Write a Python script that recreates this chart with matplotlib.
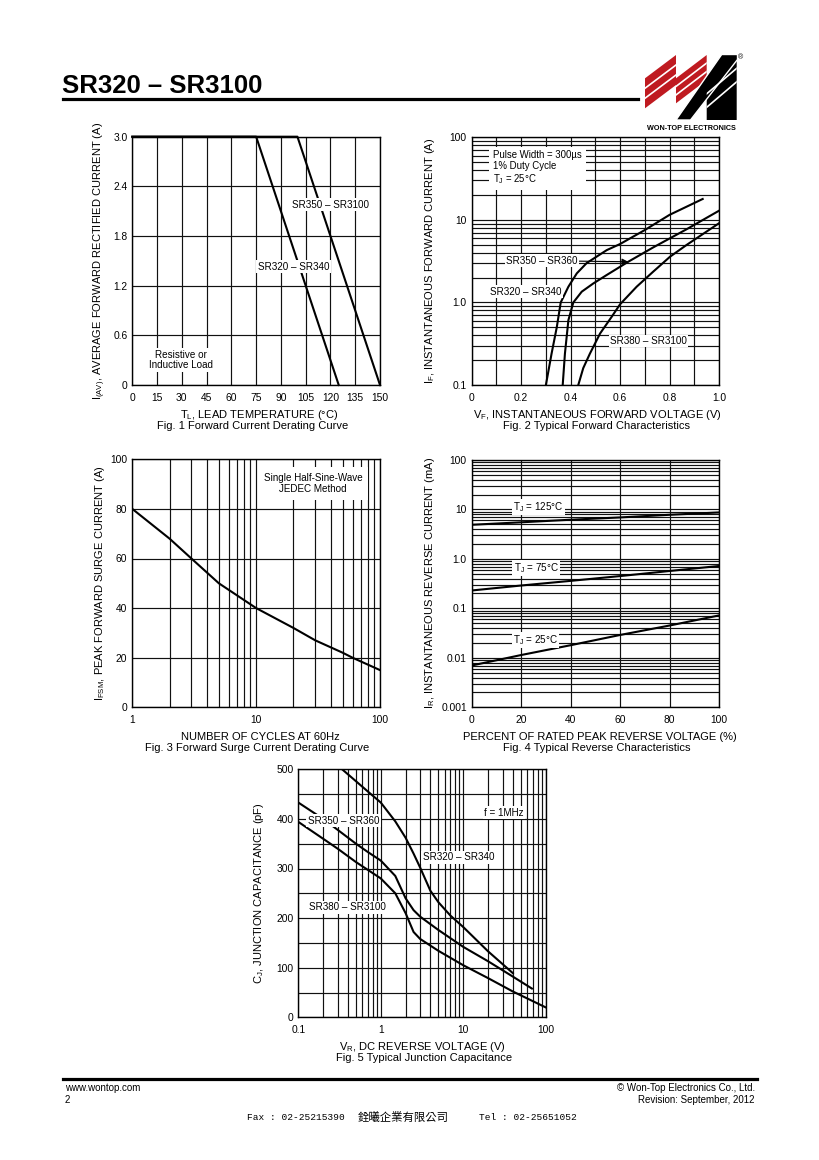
import matplotlib
matplotlib.use("Agg")
import matplotlib.pyplot as plt
from matplotlib.lines import Line2D
from matplotlib.patches import Polygon
from matplotlib.ticker import (FixedFormatter, FixedLocator, LogLocator,
                               MultipleLocator, NullFormatter)

W, H = 820, 1160

# ---- data ----
# Fig. 1 forward current derating
fig1_temp_lo = [0, 75, 125]
fig1_amp_lo = [3.0, 3.0, 0.0]
fig1_temp_hi = [0, 100, 150]
fig1_amp_hi = [3.0, 3.0, 0.0]
fig1_xticks = [0, 15, 30, 45, 60, 75, 90, 105, 120, 135, 150]
fig1_yticks = [0, 0.6, 1.2, 1.8, 2.4, 3.0]
fig1_ylabels = ["0", "0.6", "1.2", "1.8", "2.4", "3.0"]

# Fig. 2 forward characteristics
fig2_v_320 = [0.300, 0.323, 0.344, 0.360, 0.391, 0.425, 0.465, 0.546,
              0.600, 0.699, 0.800, 0.934]
fig2_i_320 = [0.1, 0.24, 0.5, 1.0, 1.55, 2.25, 3.0, 4.3, 5.1, 7.5, 11.5, 17.9]
fig2_v_350 = [0.368, 0.377, 0.391, 0.411, 0.445, 0.492, 0.546, 0.633,
              0.734, 0.869, 1.0]
fig2_i_350 = [0.1, 0.24, 0.61, 1.0, 1.35, 1.70, 2.15, 3.11, 4.64, 7.7, 12.9]
fig2_v_380 = [0.431, 0.451, 0.478, 0.519, 0.566, 0.600, 0.667, 0.734,
              0.802, 0.869, 1.0]
fig2_i_380 = [0.1, 0.16, 0.24, 0.42, 0.67, 0.95, 1.55, 2.36, 3.58, 4.97, 9.1]
fig2_xticks = [0, 0.2, 0.4, 0.6, 0.8, 1.0]
fig2_xlabels = ["0", "0.2", "0.4", "0.6", "0.8", "1.0"]
fig2_yticks = [0.1, 1, 10, 100]
fig2_ylabels = ["0.1", "1.0", "10", "100"]

# Fig. 3 surge current
fig3_cycles = [1, 2, 3, 5, 10, 20, 30, 50, 60, 100]
fig3_amp = [80, 68, 60, 50, 40, 32, 27, 22, 20, 15]
fig3_xticks = [1, 10, 100]
fig3_xlabels = ["1", "10", "100"]
fig3_yticks = [0, 20, 40, 60, 80, 100]

# Fig. 4 reverse characteristics
fig4_pct = [0, 20, 40, 60, 80, 100]
fig4_ir_125 = [4.9, 5.5, 6.2, 6.9, 7.8, 8.7]
fig4_ir_75 = [0.23, 0.29, 0.36, 0.45, 0.57, 0.72]
fig4_ir_25 = [0.007, 0.0114, 0.018, 0.029, 0.045, 0.072]
fig4_yticks = [0.001, 0.01, 0.1, 1, 10, 100]
fig4_ylabels = ["0.001", "0.01", "0.1", "1.0", "10", "100"]

# Fig. 5 junction capacitance
fig5_v_320 = [0.34, 0.5, 0.7, 1.0, 1.5, 2.0, 2.5, 3.0, 4.0, 5.0, 7.0, 10,
              20, 40]
fig5_c_320 = [500, 476, 455, 433, 395, 362, 330, 302, 255, 232, 205, 182,
              133, 89]
fig5_v_350 = [0.1, 0.2, 0.3, 0.5, 0.7, 1.0, 1.5, 2.0, 2.5, 3.0, 5.0, 10,
              20, 40, 68]
fig5_c_350 = [433, 400, 378, 350, 333, 316, 285, 240, 216, 203, 176, 142,
              113, 82, 58]
fig5_v_380 = [0.1, 0.2, 0.3, 0.5, 0.7, 1.0, 1.5, 2.0, 2.5, 3.0, 5.0, 10,
              20, 40, 100]
fig5_c_380 = [394, 360, 340, 313, 297, 280, 250, 210, 172, 158, 134, 105,
              79, 52, 20]
fig5_xticks = [0.1, 1, 10, 100]
fig5_xlabels = ["0.1", "1", "10", "100"]
fig5_yticks = [0, 100, 200, 300, 400, 500]

plt.rcParams['font.family'] = ['Liberation Sans', 'DejaVu Sans']
plt.rcParams['mathtext.default'] = 'regular'
FS = 7.4      # tick labels
FS_IN = 7.1   # labels inside the plots
FS_AX = 8.0   # axis titles and captions
LW = 1.5


def box(left, top, right, bottom):
    """Axes rectangle from page pixel coordinates."""
    return [left / W, 1 - bottom / H, (right - left) / W, (bottom - top) / H]


def ftext(fig, x, y, s, **kw):
    """Text placed in page pixel coordinates."""
    kw.setdefault('fontsize', FS_AX)
    return fig.text(x / W, 1 - y / H, s, **kw)


def style_axes(ax):
    ax.tick_params(which='both', length=0, labelsize=FS)
    ax.tick_params(axis='x', pad=5.5)
    ax.tick_params(axis='y', pad=3.5)
    ax.grid(which='both', color='#111111', lw=0.85)
    ax.set_axisbelow(True)
    for sp in ax.spines.values():
        sp.set_linewidth(1.0)


def log_minor(axis):
    axis.set_minor_locator(LogLocator(base=10, subs=range(2, 10)))
    axis.set_minor_formatter(NullFormatter())


def striped(ax, pts, color, cuts):
    """Filled logo shape with white cut lines clipped to it."""
    patch = Polygon(pts, closed=True, fc=color, ec='none')
    ax.add_patch(patch)
    for (x0, y0), (x1, y1) in cuts:
        ln, = ax.plot([x0, x1], [y0, y1], color='white', lw=1.2)
        ln.set_clip_path(patch)
    return patch


WHITE = dict(boxstyle='square,pad=0.15', fc='white', ec='none')

fig = plt.figure(figsize=(W / 100, H / 100), dpi=100)

# ---- header ----
ftext(fig, 62, 86, "SR320 – SR3100", fontsize=18.5, fontweight='bold',
      va='center', ha='left')
fig.add_artist(Line2D([63 / W, 638 / W], [1 - 99 / H, 1 - 99 / H],
                      color='black', lw=2.3, transform=fig.transFigure))

logo = fig.add_axes(box(630, 40, 750, 135))
logo.set_xlim(630, 750)
logo.set_ylim(135, 40)
logo.axis('off')
red = '#bf1a20'
striped(logo, [(645, 78.3), (676, 55), (676, 85), (645, 108.3)], red,
        [((640, 92.0), (680, 62.0)), ((640, 102.0), (680, 72.0))])
striped(logo, [(676, 78.3), (706.7, 55), (706.7, 80), (676, 103.3)], red,
        [((670, 91.0), (712, 59.0)), ((670, 99.5), (712, 67.5))])
striped(logo, [(706.7, 120), (736.7, 120), (736.7, 58), (706.7, 92)],
        'black',
        [((700, 99.5), (740, 65.5)), ((700, 113.0), (740, 79.0))])
logo.add_patch(Polygon([(676, 120), (690.5, 120), (737.5, 59.5),
                        (737.5, 54.5), (721.7, 54.5)],
                       closed=True, fc='black', ec='white', lw=1.0))
logo.text(691, 128, "WON-TOP ELECTRONICS", fontsize=5.2, fontweight='bold',
          ha='center', va='center')
logo.text(741, 58, "®", fontsize=5, ha='center', va='center')

# ---- Fig. 1 ----
ax1 = fig.add_axes(box(132.3, 136.7, 380, 385))
ax1.plot(fig1_temp_lo, fig1_amp_lo, color='black', lw=LW, clip_on=False)
ax1.plot(fig1_temp_hi, fig1_amp_hi, color='black', lw=LW, clip_on=False)
ax1.set_xlim(0, 150)
ax1.set_ylim(0, 3.0)
ax1.xaxis.set_major_locator(FixedLocator(fig1_xticks))
ax1.yaxis.set_major_locator(FixedLocator(fig1_yticks))
ax1.yaxis.set_major_formatter(FixedFormatter(fig1_ylabels))
style_axes(ax1)
ax1.text(120.3, 2.18, "SR350 – SR3100", fontsize=FS_IN, ha='center',
         va='center', zorder=5, bbox=WHITE)
ax1.text(97.6, 1.43, "SR320 – SR340", fontsize=FS_IN, ha='center',
         va='center', zorder=5, bbox=WHITE)
ax1.text(29.5, 0.30, "Resistive or\nInductive Load", fontsize=FS_IN,
         ha='center', va='center', linespacing=1.05, zorder=5, bbox=WHITE)
ftext(fig, 100, 261, r"I$_{(AV)}$, AVERAGE FORWARD RECTIFIED CURRENT (A)",
      rotation=90, ha='center', va='center')
ftext(fig, 259, 415, r"T$_{L}$, LEAD TEMPERATURE (°C)", ha='center',
      va='center')
ftext(fig, 253, 426, "Fig. 1 Forward Current Derating Curve", ha='center',
      va='center')

# ---- Fig. 2 ----
ax2 = fig.add_axes(box(471.7, 137.3, 719, 385))
ax2.set_yscale('log')
ax2.plot(fig2_v_320, fig2_i_320, color='black', lw=LW)
ax2.plot(fig2_v_350, fig2_i_350, color='black', lw=LW)
ax2.plot(fig2_v_380, fig2_i_380, color='black', lw=LW)
ax2.set_xlim(0, 1.0)
ax2.set_ylim(0.1, 100)
ax2.xaxis.set_major_locator(FixedLocator(fig2_xticks))
ax2.xaxis.set_major_formatter(FixedFormatter(fig2_xlabels))
ax2.xaxis.set_minor_locator(MultipleLocator(0.1))
ax2.yaxis.set_major_locator(FixedLocator(fig2_yticks))
ax2.yaxis.set_major_formatter(FixedFormatter(fig2_ylabels))
log_minor(ax2.yaxis)
style_axes(ax2)
ax2.text(0.086, 0.95, "Pulse Width = 300µs\n1% Duty Cycle\nT$_{J}$ = 25°C",
         transform=ax2.transAxes, fontsize=6.9, ha='left', va='top',
         linespacing=1.15, zorder=5,
         bbox=dict(boxstyle='square,pad=0.45', fc='white', ec='none'))
ax2.annotate("SR350 – SR360", xy=(0.633, 3.11), xytext=(0.284, 3.2),
             fontsize=FS_IN, ha='center', va='center', zorder=5, bbox=WHITE,
             arrowprops=dict(arrowstyle='-|>', color='black', lw=0.8,
                             mutation_scale=9, shrinkA=0, shrinkB=0))
ax2.text(0.218, 1.34, "SR320 – SR340", fontsize=FS_IN, ha='center',
         va='center', zorder=5, bbox=WHITE)
ax2.text(0.715, 0.341, "SR380 – SR3100", fontsize=FS_IN, ha='center',
         va='center', zorder=5, bbox=WHITE)
ftext(fig, 430, 261, r"I$_{F}$, INSTANTANEOUS FORWARD CURRENT (A)",
      rotation=90, ha='center', va='center')
ftext(fig, 597, 415, r"V$_{F}$, INSTANTANEOUS FORWARD VOLTAGE (V)",
      ha='center', va='center')
ftext(fig, 597, 426, "Fig. 2 Typical Forward Characteristics", ha='center',
      va='center')

# ---- Fig. 3 ----
ax3 = fig.add_axes(box(132.3, 459.3, 380, 707.3))
ax3.set_xscale('log')
ax3.plot(fig3_cycles, fig3_amp, color='black', lw=LW)
ax3.set_xlim(1, 100)
ax3.set_ylim(0, 100)
ax3.xaxis.set_major_locator(FixedLocator(fig3_xticks))
ax3.xaxis.set_major_formatter(FixedFormatter(fig3_xlabels))
log_minor(ax3.xaxis)
ax3.yaxis.set_major_locator(FixedLocator(fig3_yticks))
style_axes(ax3)
ax3.grid(which='minor', axis='y', visible=False)
ax3.text(0.73, 0.902, "Single Half-Sine-Wave\nJEDEC Method",
         transform=ax3.transAxes, fontsize=FS_IN, ha='center', va='center',
         multialignment='center', linespacing=1.1, zorder=5,
         bbox=dict(boxstyle='square,pad=0.6', fc='white', ec='none'))
ftext(fig, 100, 583, r"I$_{FSM}$, PEAK FORWARD SURGE CURRENT (A)",
      rotation=90, ha='center', va='center')
ftext(fig, 260, 737, "NUMBER OF CYCLES AT 60Hz", ha='center', va='center')
ftext(fig, 257, 748, "Fig. 3 Forward Surge Current Derating Curve",
      ha='center', va='center')

# ---- Fig. 4 ----
ax4 = fig.add_axes(box(471.7, 460, 719, 707.3))
ax4.set_yscale('log')
ax4.plot(fig4_pct, fig4_ir_125, color='black', lw=LW)
ax4.plot(fig4_pct, fig4_ir_75, color='black', lw=LW)
ax4.plot(fig4_pct, fig4_ir_25, color='black', lw=LW)
ax4.set_xlim(0, 100)
ax4.set_ylim(0.001, 100)
ax4.xaxis.set_major_locator(MultipleLocator(20))
ax4.yaxis.set_major_locator(FixedLocator(fig4_yticks))
ax4.yaxis.set_major_formatter(FixedFormatter(fig4_ylabels))
log_minor(ax4.yaxis)
style_axes(ax4)
ax4.text(27, 11.2, "T$_{J}$ = 125°C", fontsize=FS_IN, ha='center',
         va='center', zorder=5, bbox=WHITE)
ax4.text(26, 0.655, "T$_{J}$ = 75°C", fontsize=FS_IN, ha='center',
         va='center', zorder=5, bbox=WHITE)
ax4.text(25.8, 0.0229, "T$_{J}$ = 25°C", fontsize=FS_IN, ha='center',
         va='center', zorder=5, bbox=WHITE)
ftext(fig, 430, 583, r"I$_{R}$, INSTANTANEOUS REVERSE CURRENT (mA)",
      rotation=90, ha='center', va='center')
ftext(fig, 600, 737, "PERCENT OF RATED PEAK REVERSE VOLTAGE (%)",
      ha='center', va='center')
ftext(fig, 597, 748, "Fig. 4 Typical Reverse Characteristics",
      ha='center', va='center')

# ---- Fig. 5 ----
ax5 = fig.add_axes(box(298.3, 769.3, 545.7, 1017.3))
ax5.set_xscale('log')
ax5.plot(fig5_v_320, fig5_c_320, color='black', lw=LW)
ax5.plot(fig5_v_350, fig5_c_350, color='black', lw=LW)
ax5.plot(fig5_v_380, fig5_c_380, color='black', lw=LW)
ax5.set_xlim(0.1, 100)
ax5.set_ylim(0, 500)
ax5.xaxis.set_major_locator(FixedLocator(fig5_xticks))
ax5.xaxis.set_major_formatter(FixedFormatter(fig5_xlabels))
log_minor(ax5.xaxis)
ax5.yaxis.set_major_locator(FixedLocator(fig5_yticks))
ax5.yaxis.set_minor_locator(MultipleLocator(50))
style_axes(ax5)
ax5.text(31.2, 412, "f = 1MHz", fontsize=FS_IN, ha='center', va='center',
         zorder=5, bbox=WHITE)
ax5.text(0.353, 396, "SR350 – SR360", fontsize=FS_IN, ha='center',
         va='center', zorder=5, bbox=WHITE)
ax5.text(8.77, 323, "SR320 – SR340", fontsize=FS_IN, ha='center',
         va='center', zorder=5, bbox=WHITE)
ax5.text(0.395, 222, "SR380 – SR3100", fontsize=FS_IN, ha='center',
         va='center', zorder=5, bbox=WHITE)
ftext(fig, 259, 893, r"C$_{J}$, JUNCTION CAPACITANCE (pF)", rotation=90,
      ha='center', va='center')
ftext(fig, 422, 1047, r"V$_{R}$, DC REVERSE VOLTAGE (V)", ha='center',
      va='center')
ftext(fig, 424, 1058, "Fig. 5 Typical Junction Capacitance", ha='center',
      va='center')

# ---- footer ----
fig.add_artist(Line2D([63 / W, 757 / W], [1 - 1079 / H, 1 - 1079 / H],
                      color='black', lw=2.3, transform=fig.transFigure))
ftext(fig, 65, 1088, "www.wontop.com", fontsize=7, ha='left', va='center')
ftext(fig, 65, 1100, "2", fontsize=7, ha='left', va='center')
ftext(fig, 755, 1088, "© Won-Top Electronics Co., Ltd.", fontsize=7,
      ha='right', va='center')
ftext(fig, 755, 1100, "Revision: September, 2012", fontsize=7,
      ha='right', va='center')
mono = ['Liberation Mono', 'Noto Sans CJK TC']
ftext(fig, 247, 1117, "Fax : 02-25215390", fontsize=6.8, family=mono,
      ha='left', va='center')
ftext(fig, 358, 1117, "銓曦企業有限公司", fontsize=8.2, family=mono,
      ha='left', va='center')
ftext(fig, 479, 1117, "Tel : 02-25651052", fontsize=6.8, family=mono,
      ha='left', va='center')

fig.savefig("out.png", dpi=100, facecolor='white')
